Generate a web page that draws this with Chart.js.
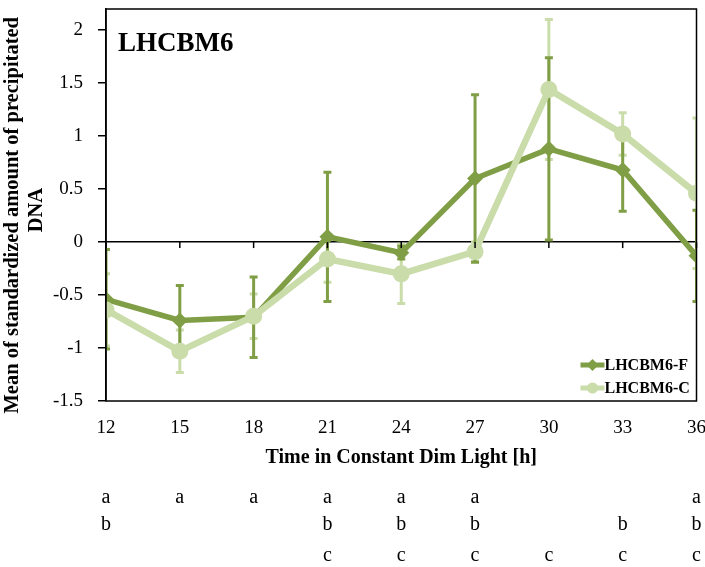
<!DOCTYPE html>
<html>
<head>
<meta charset="utf-8">
<script src="https://cdn.jsdelivr.net/npm/chart.js@4"></script>
<style>
  html, body { margin: 0; padding: 0; background: #fff; }
</style>
</head>
<body>
<canvas id="chart" width="705" height="567"></canvas>
<script>
// time points (h) and series values
const times = [12, 15, 18, 21, 24, 27, 30, 33, 36];
const meanF = [-0.54, -0.74, -0.71, 0.05, -0.10, 0.60, 0.88, 0.68, -0.13];
const errF = [0.47, 0.33, 0.38, 0.61, 0.06, 0.79, 0.86, 0.39, 0.43];
const meanC = [-0.64, -1.03, -0.70, -0.16, -0.30, -0.09, 1.44, 1.02, 0.46];
const errC = [0.34, 0.20, 0.21, 0.22, 0.28, 0.09, 0.66, 0.20, 0.71];
const yTicks = [-1.5, -1, -0.5, 0, 0.5, 1, 1.5, 2];

// significance letters under each time point
const lettersA = [12, 15, 18, 21, 24, 27, 36];
const lettersB = [12, 21, 24, 27, 33, 36];
const lettersC = [21, 24, 27, 30, 33, 36];

const darkGreen = "#7f9e45";
const lightGreen = "#c9dcaa";
const serif = "'Liberation Serif', 'Times New Roman', serif";

const errorBars = {
  id: "errorBars",
  beforeDatasetsDraw(chart) {
    const { ctx, chartArea, scales: { x, y } } = chart;
    ctx.save();
    ctx.beginPath();
    ctx.rect(chartArea.left, chartArea.top, chartArea.width, chartArea.height);
    ctx.clip();
    // pale series first so the dark bars sit on top
    [1, 0].forEach(di => {
      const ds = chart.data.datasets[di];
      ctx.strokeStyle = ds.borderColor;
      ctx.lineWidth = 3;
      ds.data.forEach((v, i) => {
        const px = x.getPixelForValue(times[i]);
        const top = y.getPixelForValue(v + ds.errors[i]);
        const bot = y.getPixelForValue(v - ds.errors[i]);
        ctx.beginPath();
        ctx.moveTo(px, top); ctx.lineTo(px, bot);
        ctx.moveTo(px - 4, top); ctx.lineTo(px + 4, top);
        ctx.moveTo(px - 4, bot); ctx.lineTo(px + 4, bot);
        ctx.stroke();
      });
    });
    ctx.restore();
  }
};

const decorations = {
  id: "decorations",
  afterDraw(chart) {
    const { ctx, chartArea: area, scales: { x, y } } = chart;
    ctx.save();

    // frame round the plot
    ctx.strokeStyle = "#000";
    ctx.lineWidth = 1.5;
    ctx.strokeRect(area.left, area.top, area.width, area.height);

    // x tick marks on the zero line
    const y0 = y.getPixelForValue(0);
    x.ticks.forEach(t => {
      const px = x.getPixelForValue(t.value);
      ctx.beginPath();
      ctx.moveTo(px, y0);
      ctx.lineTo(px, y0 + 6);
      ctx.stroke();
    });

    // panel label
    ctx.fillStyle = "#000";
    ctx.font = "bold 27px " + serif;
    ctx.textAlign = "left";
    ctx.textBaseline = "middle";
    ctx.fillText("LHCBM6", area.left + 12, area.top + 35);

    // legend
    const legendRows = [
      { label: "LHCBM6-F", color: darkGreen, style: "diamond", dy: -36 },
      { label: "LHCBM6-C", color: lightGreen, style: "circle", dy: -13 }
    ];
    ctx.font = "bold 16px " + serif;
    legendRows.forEach(r => {
      const cy = area.bottom + r.dy;
      const x0 = area.right - 116;
      ctx.strokeStyle = r.color;
      ctx.fillStyle = r.color;
      ctx.lineWidth = 5;
      ctx.beginPath();
      ctx.moveTo(x0, cy);
      ctx.lineTo(x0 + 24, cy);
      ctx.stroke();
      ctx.beginPath();
      if (r.style === "diamond") {
        ctx.moveTo(x0 + 12, cy - 6); ctx.lineTo(x0 + 18, cy);
        ctx.lineTo(x0 + 12, cy + 6); ctx.lineTo(x0 + 6, cy);
        ctx.closePath();
      } else {
        ctx.arc(x0 + 12, cy, 5.5, 0, Math.PI * 2);
      }
      ctx.fill();
      ctx.fillStyle = "#000";
      ctx.fillText(r.label, x0 + 24, cy + 1);
    });

    // letter groups under the axis
    ctx.font = "20px " + serif;
    ctx.textAlign = "center";
    [[lettersA, "a", 97], [lettersB, "b", 124], [lettersC, "c", 155]].forEach(([list, ch, dy]) => {
      list.forEach(t => {
        ctx.fillText(ch, x.getPixelForValue(t), area.bottom + dy);
      });
    });
    ctx.restore();
  }
};

new Chart(document.getElementById("chart"), {
  type: "line",
  data: {
    datasets: [
      {
        label: "LHCBM6-F",
        data: meanF,
        errors: errF,
        borderColor: darkGreen,
        backgroundColor: darkGreen,
        borderWidth: 5.5,
        pointStyle: "rectRot",
        pointRadius: 8,
        pointBorderWidth: 0,
        order: 2
      },
      {
        label: "LHCBM6-C",
        data: meanC,
        errors: errC,
        borderColor: lightGreen,
        backgroundColor: lightGreen,
        borderWidth: 6.5,
        pointStyle: "circle",
        pointRadius: 8.5,
        pointBorderWidth: 0,
        order: 1
      }
    ],
    labels: times
  },
  options: {
    responsive: false,
    animation: false,
    devicePixelRatio: 1,
    layout: { padding: { top: 9, right: 5, left: 0, bottom: 97 } },
    plugins: {
      legend: { display: false },
      tooltip: { enabled: false }
    },
    scales: {
      x: {
        type: "linear",
        min: 12,
        max: 36,
        ticks: {
          stepSize: 3,
          padding: 16,
          color: "#000",
          font: { family: serif, size: 19 }
        },
        grid: { display: false, drawTicks: false },
        border: { display: false },
        title: {
          display: true,
          text: "Time in Constant Dim Light [h]",
          color: "#000",
          font: { family: serif, size: 20, weight: "bold" },
          padding: { top: 4, bottom: 0 }
        },
        afterFit(scale) {
          scale.height = 69;
          scale.paddingLeft = 0;
          scale.paddingRight = 0;
        }
      },
      y: {
        min: -1.5,
        max: 2.2,
        afterBuildTicks(scale) {
          scale.ticks = yTicks.map(v => ({ value: v }));
        },
        ticks: {
          padding: 15,
          color: "#000",
          font: { family: serif, size: 19 },
          callback: v => String(v)
        },
        grid: {
          color: c => (c.tick && c.tick.value === 0 ? "#000" : "rgba(0,0,0,0)"),
          lineWidth: 1.5,
          tickColor: "#000",
          tickLength: 8,
          tickWidth: 1.5
        },
        border: { color: "#000", width: 1.5 },
        title: {
          display: true,
          text: ["Mean of standardized amount of precipitated    ", "DNA  "],
          color: "#000",
          font: { family: serif, size: 20.5, weight: "bold" },
          padding: { top: 0, bottom: 0 }
        },
        afterFit(scale) {
          scale.width = 106;
          scale.paddingTop = 0;
          scale.paddingBottom = 0;
        }
      }
    }
  },
  plugins: [errorBars, decorations]
});
</script>
</body>
</html>
